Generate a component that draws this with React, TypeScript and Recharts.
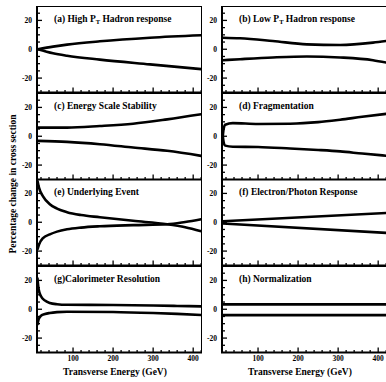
import React from 'react';
import { LineChart, Line, XAxis, YAxis, ReferenceArea } from 'recharts';

// Systematic uncertainty sources: transverse energy (GeV) sample points and
// the upper / lower percentage change in the cross section at each point.
const etA = [12, 50, 85, 167, 292, 420];
const highPtUp = [0, 1.8, 3.2, 5.5, 8, 9.7];
const highPtDown = [0, -2.8, -4.5, -7.2, -10.5, -13.8];

const etB = [12, 55, 137, 222, 305, 387, 420];
const lowPtUp = [8, 7.6, 5.7, 3.4, 3, 4.6, 5.7];
const lowPtDown = [-7.6, -6.9, -5.7, -5, -5.7, -7.6, -9.2];

const etC = [12, 85, 167, 250, 335, 420];
const scaleUp = [6, 6, 7.1, 8.7, 11.7, 15.2];
const scaleDown = [-3.2, -3.9, -5.5, -7.8, -10.1, -13.6];

const etD = [12, 14, 18, 37, 100, 180, 250, 305, 360, 420];
const fragUp = [0, 5, 8, 9.1, 8.5, 8.7, 9.8, 11.5, 13.5, 15.5];
const fragDown = [0, -4, -6.5, -7.3, -7.5, -8.5, -9.5, -10.5, -12, -13.5];

const etE = [11, 15, 25, 42, 60, 85, 120, 167, 250, 335, 380, 420];
const ueUp = [29, 24, 18, 12.5, 9.5, 7, 5, 3.5, 1, -1.4, -3.5, -6.3];
const ueDown = [-19, -15.5, -11, -8.4, -6.5, -4.9, -3.7, -2.8, -2, -1.4, 0.2, 2.1];

const etF = [12, 420];
const emUp = [0.7, 6.4];
const emDown = [-0.9, -7.4];

const etG = [11, 14, 20, 30, 42, 60, 85, 200, 300, 360, 420];
const resUp = [22, 14, 9, 6, 4.4, 3.5, 3.1, 3, 2.6, 2.3, 2];
const resDown = [-11, -7, -4.5, -3.3, -2.6, -2, -1.7, -1.9, -2.6, -3.2, -4];

const etH = [10, 422];
const normUp = [3.4, 3.4];
const normDown = [-4.1, -4.1];

const energyDomain = [10, 422];
const shiftDomain = [-30, 30];
const energyTicks = [20, 40, 60, 80, 100, 120, 140, 160, 180, 200, 220, 240, 260, 280, 300, 320, 340, 360, 380, 400, 420];
const energyLabels = [100, 200, 300, 400];
const shiftTicks = [-25, -20, -15, -10, -5, 0, 5, 10, 15, 20, 25];
const shiftLabels = [-20, 0, 20];

type Pt = { et: number; v: number };
const toPoints = (et: number[], vals: number[]): Pt[] => et.map((e, i) => ({ et: e, v: vals[i] }));

type Panel = { tag: string; title: string; sub?: string; rest?: string; et: number[]; up: number[]; down: number[] };

const panels: Panel[] = [
  { tag: '(a)', title: ' High P', sub: 'T', rest: ' Hadron response', et: etA, up: highPtUp, down: highPtDown },
  { tag: '(b)', title: ' Low P', sub: 'T', rest: ' Hadron response', et: etB, up: lowPtUp, down: lowPtDown },
  { tag: '(c)', title: ' Energy Scale Stability', et: etC, up: scaleUp, down: scaleDown },
  { tag: '(d)', title: ' Fragmentation', et: etD, up: fragUp, down: fragDown },
  { tag: '(e)', title: ' Underlying Event', et: etE, up: ueUp, down: ueDown },
  { tag: '(f)', title: ' Electron/Photon Response', et: etF, up: emUp, down: emDown },
  { tag: '(g)', title: 'Calorimeter Resolution', et: etG, up: resUp, down: resDown },
  { tag: '(h)', title: ' Normalization', et: etH, up: normUp, down: normDown },
];

// Layout
const TOP = 6;
const ROW_H = 86.5;
const PLOT_W = 165;
const LEFT_AXIS_W = 37;
const RIGHT_AXIS_W = 20;
const RIGHT_COL_X = LEFT_AXIS_W + PLOT_W; // 202
const X_AXIS_H = 24;

const FONT = '"Liberation Serif", "DejaVu Serif", serif';
const INK = '#000';

const YTick = (props: any) => {
  const { x, y, payload } = props;
  const v = payload.value as number;
  const major = shiftLabels.includes(v);
  return (
    <g>
      <line x1={x} x2={x + (major ? 5 : 3)} y1={y} y2={y} stroke={INK} strokeWidth={1.3} />
      {major && (
        <text x={x - 5} y={y} dy="0.35em" textAnchor="end" fontFamily={FONT} fontWeight="bold" fontSize={7.5} fill={INK}>
          {v}
        </text>
      )}
    </g>
  );
};

const makeXTick = (withLabels: boolean) => (props: any) => {
  const { x, y, payload } = props;
  const v = payload.value as number;
  const major = energyLabels.includes(v);
  return (
    <g>
      <line x1={x} x2={x} y1={y} y2={y - (major ? 5 : 2.5)} stroke={INK} strokeWidth={1.3} />
      {withLabels && major && (
        <text x={x} y={y + 8} textAnchor="middle" fontFamily={FONT} fontWeight="bold" fontSize={7.5} fill={INK}>
          {v}
        </text>
      )}
    </g>
  );
};

const PanelChart = ({ p, col, row }: { p: Panel; col: number; row: number }) => {
  const axisW = col === 0 ? LEFT_AXIS_W : RIGHT_AXIS_W;
  const chartLeft = col === 0 ? 0 : RIGHT_COL_X;
  const top = TOP + row * ROW_H;
  const bottomRow = row === 3;
  return (
    <div style={{ position: 'absolute', left: chartLeft, top }}>
      <LineChart
        width={axisW + PLOT_W}
        height={ROW_H + X_AXIS_H}
        margin={{ top: 0, right: 0, bottom: 0, left: 0 }}
      >
        <XAxis
          dataKey="et"
          type="number"
          domain={energyDomain}
          ticks={energyTicks}
          interval={0}
          allowDataOverflow
          axisLine={false}
          tickLine={false}
          tickSize={0}
          tickMargin={0}
          height={X_AXIS_H}
          tick={makeXTick(bottomRow)}
        />
        <YAxis
          type="number"
          domain={shiftDomain}
          ticks={shiftTicks}
          interval={0}
          allowDataOverflow
          axisLine={false}
          tickLine={false}
          tickSize={0}
          tickMargin={0}
          width={axisW}
          tick={YTick}
        />
        <ReferenceArea
          x1={energyDomain[0]}
          x2={energyDomain[1]}
          y1={shiftDomain[0]}
          y2={shiftDomain[1]}
          fill="none"
          fillOpacity={0}
          stroke={INK}
          strokeWidth={2}
        />
        <Line
          data={toPoints(p.et, p.up)}
          dataKey="v"
          type="monotone"
          stroke={INK}
          strokeWidth={2.6}
          dot={false}
          isAnimationActive={false}
        />
        <Line
          data={toPoints(p.et, p.down)}
          dataKey="v"
          type="monotone"
          stroke={INK}
          strokeWidth={2.6}
          dot={false}
          isAnimationActive={false}
        />
      </LineChart>
    </div>
  );
};

export default function App() {
  const plotLeft = [LEFT_AXIS_W, RIGHT_COL_X + RIGHT_AXIS_W];
  return (
    <div style={{ position: 'absolute', left: 0, top: 0, width: 386, height: 382, overflow: 'hidden', background: '#fff' }}>
      {panels.map((p, i) => (
        <PanelChart key={p.tag} p={p} col={i % 2} row={Math.floor(i / 2)} />
      ))}
      <svg width={386} height={382} style={{ position: 'absolute', left: 0, top: 0, pointerEvents: 'none' }}>
        {panels.map((p, i) => {
          const col = i % 2;
          const row = Math.floor(i / 2);
          return (
            <text
              key={p.tag}
              x={plotLeft[col] + 17}
              y={TOP + row * ROW_H + 16}
              fontFamily={FONT}
              fontWeight="bold"
              fontSize={9.5}
              fill={INK}
            >
              {p.tag}
              {p.title}
              {p.sub && (
                <tspan dy={2} fontSize={6.5}>
                  {p.sub}
                </tspan>
              )}
              {p.rest && <tspan dy={-2}>{p.rest}</tspan>}
            </text>
          );
        })}
        <text
          transform={`translate(13, ${TOP + 2 * ROW_H + 5}) rotate(-90)`}
          textAnchor="middle"
          dy="0.35em"
          fontFamily={FONT}
          fontWeight="bold"
          fontSize={9.5}
          fill={INK}
        >
          Percentage change in cross section
        </text>
        {plotLeft.map((x0) => (
          <text
            key={x0}
            x={x0 + 78}
            y={375}
            textAnchor="middle"
            fontFamily={FONT}
            fontWeight="bold"
            fontSize={9.5}
            fill={INK}
          >
            Transverse Energy (GeV)
          </text>
        ))}
      </svg>
    </div>
  );
}
